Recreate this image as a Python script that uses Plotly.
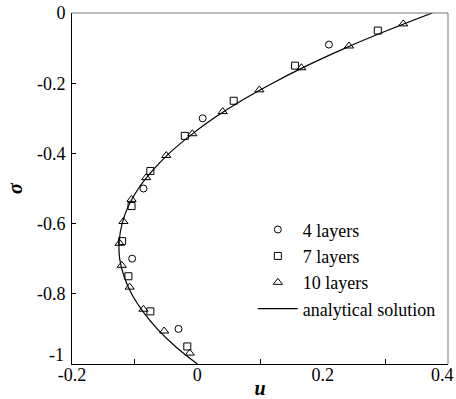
import plotly.graph_objects as go

# 4 layers
u4 = [0.210, 0.0085, -0.086, -0.104, -0.030]
s4 = [-0.09, -0.30, -0.50, -0.70, -0.90]

# 7 layers
u7 = [0.288, 0.156, 0.058, -0.020, -0.075, -0.105, -0.120, -0.110, -0.075, -0.016]
s7 = [-0.05, -0.15, -0.25, -0.35, -0.45, -0.55, -0.65, -0.75, -0.85, -0.95]

# 10 layers
u10 = [0.3285, 0.242, 0.166, 0.099, 0.0405, -0.008, -0.0496, -0.0816,
       -0.105, -0.118, -0.124, -0.1206, -0.108, -0.086, -0.053, -0.012]
s10 = [-0.031, -0.094, -0.156, -0.219, -0.281, -0.344, -0.406, -0.469,
       -0.531, -0.594, -0.656, -0.719, -0.781, -0.844, -0.906, -0.969]

# analytical solution
ua = [0.375, 0.303, 0.236, 0.175, 0.120, 0.070, 0.026, -0.012, -0.045, -0.072,
      -0.094, -0.110, -0.120, -0.1247, -0.124, -0.117, -0.105, -0.087, -0.064,
      -0.035, 0.0]
sa = [0.0, -0.05, -0.10, -0.15, -0.20, -0.25, -0.30, -0.35, -0.40, -0.45,
      -0.50, -0.55, -0.60, -0.65, -0.70, -0.75, -0.80, -0.85, -0.90, -0.95, -1.0]

xticks = [-0.2, 0, 0.2]
xticklabels = ["-0.2", "0", "0.2"]
xlast_tick = 0.4
xlast_label = "0.4"
xminor = [-0.1, 0.1, 0.3]
yticks = [0, -0.2, -0.4, -0.6, -0.8, -1]
yticklabels = ["0", "-0.2", "-0.4", "-0.6", "-0.8", ""]
ylast_tick = -1
ylast_label = "-1"

FONT = "Liberation Serif, Times New Roman, serif"

fig = go.Figure()
fig.add_trace(go.Scatter(x=u4, y=s4, mode="markers", name="4 layers", legendgroup="a",
                         marker=dict(symbol="circle-open", size=7, color="black", line=dict(width=1))))
fig.add_trace(go.Scatter(x=u7, y=s7, mode="markers", name="7 layers", legendgroup="b",
                         marker=dict(symbol="square-open", size=7, color="black", line=dict(width=1))))
fig.add_trace(go.Scatter(x=u10, y=s10, mode="markers", name="10 layers", legendgroup="c",
                         marker=dict(symbol="triangle-up-open", size=8, color="black", line=dict(width=1))))
fig.add_trace(go.Scatter(x=ua, y=sa, mode="lines", name="analytical solution", legendgroup="d",
                         line=dict(color="black", width=1.2, shape="spline")))

fig.update_layout(
    width=456, height=399,
    margin=dict(l=72, r=8, t=13, b=35, autoexpand=False),
    plot_bgcolor="white", paper_bgcolor="white",
    font=dict(family=FONT, size=18, color="black"),
    showlegend=True,
    legend=dict(x=0.481, y=0.435, xanchor="left", yanchor="top", bgcolor="rgba(0,0,0,0)",
                font=dict(family=FONT, size=18), tracegroupgap=0, itemwidth=40),
    xaxis=dict(range=[-0.2, 0.4], tickvals=xticks, ticktext=xticklabels, ticks="",
               showline=True, linecolor="black", linewidth=1, mirror=False, showgrid=False,
               zeroline=False, automargin=False, ticklabelstandoff=-6,
               minor=dict(tickvals=xminor, ticks="inside", ticklen=5, tickcolor="black", showgrid=False),
               title=dict(text="<b><i>u</i></b>", font=dict(family=FONT, size=20), standoff=0)),
    yaxis=dict(range=[-1, 0], tickvals=yticks, ticktext=yticklabels, ticks="inside", ticklen=4,
               tickcolor="black", showline=True, linecolor="black", linewidth=1, showgrid=False,
               zeroline=False, ticklabelstandoff=2, ticklabeloverflow="allow", automargin=False,
               title=dict(text="<b><i>σ</i></b>", font=dict(family=FONT, size=20), standoff=8)),
)
# last x tick label, kept inside the page
fig.add_annotation(x=xlast_tick, y=0, xref="x", yref="paper", text=xlast_label, showarrow=False,
                   xanchor="right", yanchor="top", xshift=8, yshift=1,
                   font=dict(family=FONT, size=18, color="black"))
# lowest y tick label, lifted clear of the x labels
fig.add_annotation(x=0, y=ylast_tick, xref="paper", yref="y", text=ylast_label, showarrow=False,
                   xanchor="right", yanchor="middle", xshift=-6, yshift=9,
                   font=dict(family=FONT, size=18, color="black"))
# gray top and right frame
fig.add_shape(type="line", xref="paper", yref="paper", x0=0, x1=1, y0=1, y1=1,
              line=dict(color="#777777", width=1))
fig.add_shape(type="line", xref="paper", yref="paper", x0=1, x1=1, y0=0, y1=1,
              line=dict(color="#777777", width=1))

fig.write_html("out.html")
